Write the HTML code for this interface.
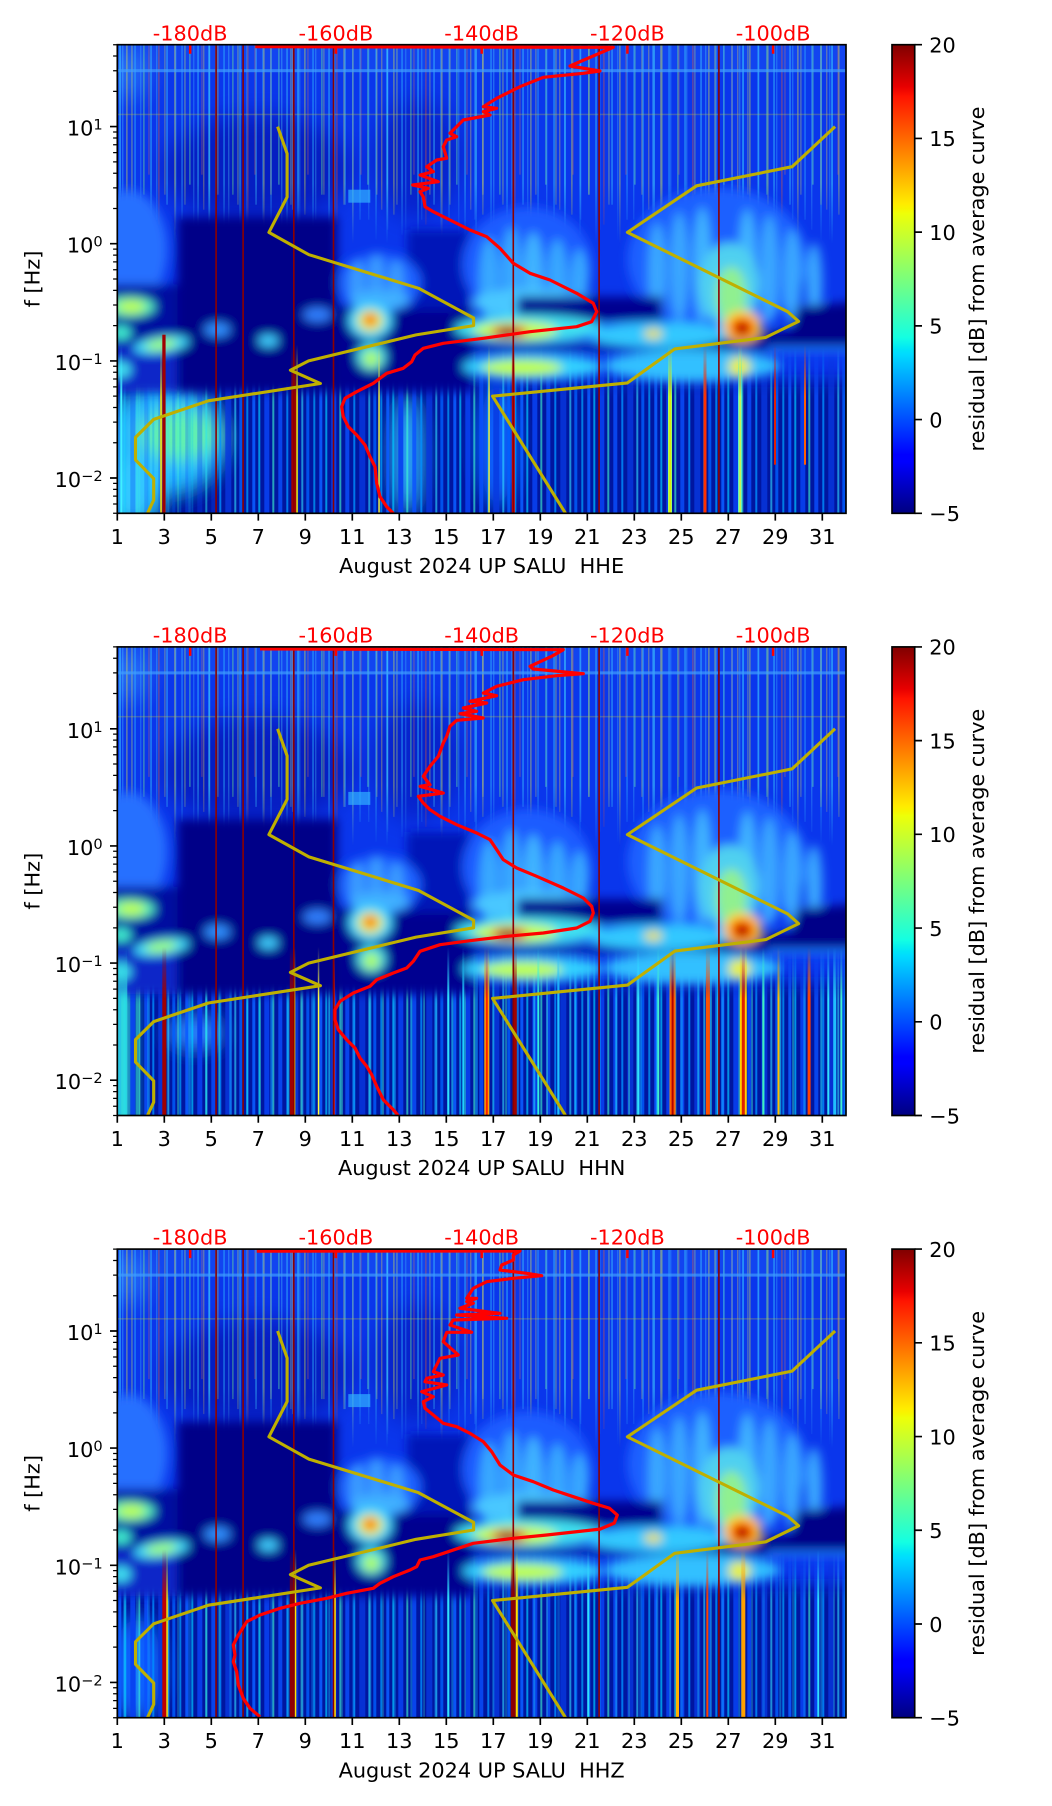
<!DOCTYPE html>
<html><head><meta charset="utf-8">
<style>
html,body{margin:0;padding:0;background:#fff}
svg{display:block}
text{font-family:"DejaVu Sans","Liberation Sans",sans-serif;font-size:20.83px}
</style></head><body>
<svg xmlns="http://www.w3.org/2000/svg" width="1052" height="1806" viewBox="0 0 1052 1806">
<rect width="1052" height="1806" fill="#fff"/>
<defs>
<clipPath id="pc"><rect x="0" y="0" width="728.7" height="468.6"/></clipPath>
<filter id="b5" filterUnits="userSpaceOnUse" x="-80" y="-80" width="900" height="640"><feGaussianBlur stdDeviation="5"/></filter>
<filter id="b4" filterUnits="userSpaceOnUse" x="-80" y="-80" width="900" height="640"><feGaussianBlur stdDeviation="4"/></filter>
<filter id="b9" filterUnits="userSpaceOnUse" x="-80" y="-80" width="900" height="640"><feGaussianBlur stdDeviation="9"/></filter>
<filter id="b12" filterUnits="userSpaceOnUse" x="-80" y="-80" width="900" height="640"><feGaussianBlur stdDeviation="12"/></filter>
<linearGradient id="mtg" gradientUnits="userSpaceOnUse" x1="0" y1="0" x2="0" y2="210">
<stop offset="0.66" stop-color="#fff"/><stop offset="0.95" stop-color="#000"/>
</linearGradient>
<mask id="mt" maskUnits="userSpaceOnUse" x="-10" y="-10" width="760" height="500">
<rect x="-10" y="-10" width="760" height="230" fill="url(#mtg)"/>
</mask>
<linearGradient id="meg" gradientUnits="userSpaceOnUse" x1="0" y1="300" x2="0" y2="352">
<stop offset="0" stop-color="#000"/><stop offset="1" stop-color="#fff"/>
</linearGradient>
<mask id="me" maskUnits="userSpaceOnUse" x="-10" y="-10" width="760" height="500">
<rect x="-10" y="280" width="760" height="200" fill="url(#meg)"/>
</mask>
<linearGradient id="jet" x1="0" y1="1" x2="0" y2="0">
<stop offset="0" stop-color="#000080"/><stop offset="0.11" stop-color="#0000ff"/><stop offset="0.125" stop-color="#0000ff"/>
<stop offset="0.34" stop-color="#00dbff"/><stop offset="0.35" stop-color="#00e5f7"/><stop offset="0.375" stop-color="#14ffe2"/>
<stop offset="0.64" stop-color="#eeff08"/><stop offset="0.65" stop-color="#f7f500"/><stop offset="0.66" stop-color="#ffec00"/>
<stop offset="0.89" stop-color="#ff1300"/><stop offset="0.91" stop-color="#e80000"/><stop offset="1" stop-color="#800000"/>
</linearGradient>
<pattern id="pt" width="89" height="220" patternUnits="userSpaceOnUse">
<rect x="2" width="1.5" height="200" fill="#40e0ff" opacity=".6"/>
<rect x="9" width="1.2" height="170" fill="#e8f040" opacity=".5"/>
<rect x="17" width="1.5" height="190" fill="#30c0ff" opacity=".5"/>
<rect x="26" width="1.2" height="150" fill="#80ff80" opacity=".5"/>
<rect x="33" width="1.5" height="200" fill="#40e8ff" opacity=".45"/>
<rect x="41" width="1.2" height="180" fill="#ff6020" opacity=".45"/>
<rect x="49" width="1.5" height="160" fill="#40d0ff" opacity=".5"/>
<rect x="57" width="1.2" height="200" fill="#f0f040" opacity=".5"/>
<rect x="64" width="1.5" height="175" fill="#30b0ff" opacity=".5"/>
<rect x="72" width="1.2" height="140" fill="#70ffa0" opacity=".5"/>
<rect x="80" width="1.5" height="195" fill="#40e0ff" opacity=".45"/>
<rect x="86" width="1" height="165" fill="#ffe040" opacity=".45"/>
</pattern>
<pattern id="pt2" width="53" height="220" patternUnits="userSpaceOnUse">
<rect x="5" width="1" height="185" fill="#60f0ff" opacity=".4"/>
<rect x="14" width="1.3" height="160" fill="#d0f060" opacity=".4"/>
<rect x="23" width="1" height="195" fill="#40c0ff" opacity=".45"/>
<rect x="31" width="1.3" height="130" fill="#ff8040" opacity=".3"/>
<rect x="39" width="1" height="175" fill="#50e0ff" opacity=".4"/>
<rect x="47" width="1.2" height="150" fill="#f0f050" opacity=".35"/>
</pattern>
<pattern id="pe" width="67" height="600" patternUnits="userSpaceOnUse">
<rect x="1" width="3" height="600" fill="#0a5cff" opacity=".9"/>
<rect x="7" width="2" height="600" fill="#00c8ff" opacity=".7"/>
<rect x="13" width="5" height="600" fill="#0840f0" opacity=".9"/>
<rect x="21" width="2" height="600" fill="#40ffd0" opacity=".6"/>
<rect x="27" width="4" height="600" fill="#0a50ff" opacity=".8"/>
<rect x="35" width="2" height="600" fill="#0090ff" opacity=".8"/>
<rect x="41" width="6" height="600" fill="#0838e0" opacity=".8"/>
<rect x="50" width="2" height="600" fill="#30e0ff" opacity=".6"/>
<rect x="55" width="3" height="600" fill="#0060ff" opacity=".8"/>
<rect x="62" width="2" height="600" fill="#00a8ff" opacity=".7"/>
</pattern>
<pattern id="pe2" width="41" height="600" patternUnits="userSpaceOnUse">
<rect x="6" width="2" height="600" fill="#20d8ff" opacity=".6"/>
<rect x="19" width="1.5" height="600" fill="#40ffd0" opacity=".5"/>
<rect x="30" width="2.5" height="600" fill="#10a0ff" opacity=".6"/>
</pattern>

<g id="top">
<rect x="-5" y="-5" width="740" height="480" fill="#0a36ec"/>
<rect x="-5" y="-5" width="740" height="30" fill="#1244f0"/>
<g filter="url(#b12)">
<ellipse cx="140" cy="125" rx="95" ry="55" fill="#000090" opacity=".45"/>
<ellipse cx="300" cy="115" rx="45" ry="60" fill="#000090" opacity=".35"/>
<ellipse cx="10" cy="30" rx="20" ry="25" fill="#40a0ff" opacity=".5"/>
</g>
<g mask="url(#mt)">
<rect x="0" y="0" width="729" height="210" fill="url(#pt)"/>
<rect x="0" y="0" width="729" height="210" fill="url(#pt2)"/>
</g>
<rect x="0" y="24.5" width="729" height="3" fill="#40a0ff" opacity=".7"/>
<rect x="0" y="69" width="729" height="1.5" fill="#c0c040" opacity=".3"/>
<rect x="231" y="145" width="22" height="13" fill="#30b0ff" opacity=".7"/>
</g>

<g id="mid" filter="url(#b5)">
<ellipse cx="10" cy="205" rx="40" ry="60" fill="#2670ff"/>
<rect x="-30" y="240" width="92" height="62" fill="#000ca0"/>
<rect x="-30" y="300" width="92" height="47" fill="#0a28c8"/>
<rect x="60" y="172" width="160" height="175" fill="#000088"/>
<rect x="220" y="262" width="135" height="85" fill="#000090"/>
<rect x="290" y="185" width="62" height="80" fill="#0614b8"/>
<ellipse cx="262" cy="238" rx="42" ry="30" fill="#1a60ff"/>
<ellipse cx="240" cy="240" rx="8" ry="25" fill="#3a9cff"/>
<ellipse cx="259" cy="236" rx="8" ry="28" fill="#3a9cff"/>
<ellipse cx="279" cy="240" rx="8" ry="25" fill="#3a9cff"/>
<ellipse cx="262" cy="255" rx="30" ry="10" fill="#40b0ff"/>
<ellipse cx="410" cy="220" rx="65" ry="58" fill="#1a5cff"/>
<ellipse cx="372" cy="235" rx="10" ry="42" fill="#38a8ff"/>
<ellipse cx="394" cy="230" rx="10" ry="48" fill="#38a8ff"/>
<ellipse cx="416" cy="232" rx="10" ry="45" fill="#40b4ff"/>
<ellipse cx="440" cy="236" rx="10" ry="42" fill="#38a8ff"/>
<ellipse cx="462" cy="240" rx="9" ry="36" fill="#38a8ff"/>
<ellipse cx="410" cy="258" rx="55" ry="14" fill="#48c8ff"/>
<ellipse cx="600" cy="215" rx="90" ry="72" fill="#1a60ff"/>
<ellipse cx="540" cy="228" rx="9" ry="50" fill="#3aa8ff"/>
<ellipse cx="562" cy="222" rx="9" ry="55" fill="#3aa8ff"/>
<ellipse cx="585" cy="220" rx="9" ry="58" fill="#40b4ff"/>
<ellipse cx="630" cy="222" rx="9" ry="58" fill="#40b4ff"/>
<ellipse cx="652" cy="225" rx="9" ry="55" fill="#3aa8ff"/>
<ellipse cx="675" cy="232" rx="9" ry="48" fill="#3aa8ff"/>
<ellipse cx="697" cy="238" rx="8" ry="40" fill="#3aa8ff"/>
<ellipse cx="612" cy="240" rx="30" ry="42" fill="#50d0f0"/>
<ellipse cx="614" cy="250" rx="15" ry="28" fill="#90f090"/>
<rect x="400" y="252" width="145" height="24" fill="#000090"/>
<path d="M540,290 L673,286 L680,262 L760,255 L760,300 L540,303 Z" fill="#000088"/>
<rect x="350" y="299" width="400" height="7" fill="#0010a0"/>
<ellipse cx="12" cy="262" rx="26" ry="10" fill="#50f0c0"/>
<ellipse cx="14" cy="262" rx="14" ry="6" fill="#c0ff40"/>
<ellipse cx="4" cy="288" rx="10" ry="7" fill="#40f0d0"/>
<ellipse cx="44" cy="300" rx="28" ry="8" fill="#40e0ff" transform="rotate(-8 44 300)"/>
<ellipse cx="44" cy="300" rx="16" ry="5" fill="#a0ff60" transform="rotate(-8 44 300)"/>
<ellipse cx="100" cy="285" rx="13" ry="7" fill="#3090ff"/>
<ellipse cx="151" cy="296" rx="10" ry="6" fill="#40d0ff"/>
<ellipse cx="200" cy="270" rx="14" ry="7" fill="#3080ff"/>
<ellipse cx="4" cy="325" rx="10" ry="8" fill="#40e0f0"/>
<ellipse cx="253" cy="276" rx="22" ry="18" fill="#40d8ff"/>
<ellipse cx="253" cy="276" rx="13" ry="11" fill="#e8f030"/>
<ellipse cx="253" cy="275" rx="6" ry="6" fill="#ff4000"/>
<ellipse cx="254" cy="312" rx="15" ry="14" fill="#40d8e8"/>
<ellipse cx="254" cy="314" rx="8" ry="8" fill="#b0ff50"/>
<ellipse cx="412" cy="284" rx="75" ry="14" fill="#40e0f0"/>
<ellipse cx="398" cy="286" rx="42" ry="9" fill="#c8ff40"/>
<ellipse cx="392" cy="287" rx="18" ry="6" fill="#e80000"/>
<ellipse cx="390" cy="287" rx="8" ry="4" fill="#800000"/>
<ellipse cx="415" cy="322" rx="70" ry="13" fill="#30d0ff"/>
<ellipse cx="405" cy="323" rx="40" ry="8" fill="#c0ff40"/>
<ellipse cx="540" cy="290" rx="72" ry="13" fill="#30c8ff"/>
<ellipse cx="536" cy="289" rx="9" ry="5" fill="#f0e020"/>
<ellipse cx="575" cy="321" rx="88" ry="16" fill="#30c0ff"/>
<ellipse cx="622" cy="322" rx="11" ry="10" fill="#e8f030"/>
<ellipse cx="625" cy="282" rx="19" ry="16" fill="#ffd000"/>
<ellipse cx="625" cy="283" rx="12" ry="10" fill="#ff2000"/>
<ellipse cx="625" cy="284" rx="6" ry="6" fill="#900000"/>
<rect x="650" y="302" width="100" height="5" fill="#2080ff"/>
</g>

<g id="dred" fill="#8c0000">
<rect x="98" y="0" width="1.6" height="469"/>
<rect x="125" y="0" width="1.6" height="469"/>
<rect x="175.7" y="0" width="1.6" height="469"/>
<rect x="215.4" y="0" width="1.6" height="469"/>
<rect x="395.2" y="0" width="1.6" height="469"/>
<rect x="481" y="0" width="1.6" height="469"/>
<rect x="600.8" y="0" width="1.6" height="469"/>
</g>

<g id="olive" fill="none" stroke="#bfb000" stroke-width="3.1" stroke-linejoin="round">
<polyline points="160.3,81.9 169.8,108.9 169.8,152.4 151.6,187.7 191.6,210.0 301.3,243.6 356.3,273.3 356.3,280.9 298.8,290.2 191.3,316.2 173.1,325.5 203.1,338.8 91.1,356.1 36.4,374.7 18.2,392.7 18.2,415.2 36.4,433.9 36.4,455.3 30.2,468.6"/>
<polyline points="717.8,81.9 674.8,122.0 579.3,141.1 510.1,187.7 670.4,267.0 681.3,276.7 648.5,292.7 557.5,304.2 510.1,338.2 375.3,351.5 448.2,468.6"/>
</g>

<g id="rt" stroke="#ff0000" stroke-width="2.5">
<line x1="72.87" y1="0" x2="72.87" y2="9"/>
<line x1="218.6" y1="0" x2="218.6" y2="9"/>
<line x1="364.4" y1="0" x2="364.4" y2="9"/>
<line x1="510.1" y1="0" x2="510.1" y2="9"/>
<line x1="655.8" y1="0" x2="655.8" y2="9"/>
</g>

<g id="ax">
<rect x="0" y="0" width="728.7" height="468.6" fill="none" stroke="#000" stroke-width="1.67"/>
<path d="M0,81.9h-7.3M0,199h-7.3M0,316.2h-7.3M0,433.3h-7.3" stroke="#000" stroke-width="1.67"/>
<path d="M0,468.6h-4.2M0,459.33h-4.2M0,451.48h-4.2M0,444.69h-4.2M0,438.7h-4.2M0,398.07h-4.2M0,377.44h-4.2M0,362.8h-4.2M0,351.45h-4.2M0,342.17h-4.2M0,334.33h-4.2M0,327.54h-4.2M0,321.55h-4.2M0,280.92h-4.2M0,260.29h-4.2M0,245.65h-4.2M0,234.3h-4.2M0,225.02h-4.2M0,217.18h-4.2M0,210.39h-4.2M0,204.4h-4.2M0,163.77h-4.2M0,143.14h-4.2M0,128.5h-4.2M0,117.15h-4.2M0,107.87h-4.2M0,100.03h-4.2M0,93.24h-4.2M0,87.25h-4.2M0,46.62h-4.2M0,25.99h-4.2M0,11.35h-4.2M0,0h-4.2" stroke="#000" stroke-width="1.25"/>
<path d="M0,468.6v7.3M47,468.6v7.3M94,468.6v7.3M141,468.6v7.3M188,468.6v7.3M235,468.6v7.3M282,468.6v7.3M329,468.6v7.3M376,468.6v7.3M423,468.6v7.3M470,468.6v7.3M517,468.6v7.3M564,468.6v7.3M611,468.6v7.3M658,468.6v7.3M705,468.6v7.3" stroke="#000" stroke-width="1.67"/>
<g text-anchor="middle" fill="#000">
<text x="0" y="499.1">1</text><text x="47" y="499.1">3</text><text x="94" y="499.1">5</text><text x="141" y="499.1">7</text>
<text x="188" y="499.1">9</text><text x="235" y="499.1">11</text><text x="282" y="499.1">13</text><text x="329" y="499.1">15</text>
<text x="376" y="499.1">17</text><text x="423" y="499.1">19</text><text x="470" y="499.1">21</text><text x="517" y="499.1">23</text>
<text x="564" y="499.1">25</text><text x="611" y="499.1">27</text><text x="658" y="499.1">29</text><text x="705" y="499.1">31</text>
</g>
<g text-anchor="end" fill="#000">
<text x="-14.6" y="90.9">10<tspan dy="-6" font-size="14.6">1</tspan></text>
<text x="-14.6" y="208">10<tspan dy="-6" font-size="14.6">0</tspan></text>
<text x="-14.6" y="325.2">10<tspan dy="-6" font-size="14.6">−1</tspan></text>
<text x="-14.6" y="442.3">10<tspan dy="-6" font-size="14.6">−2</tspan></text>
</g>
<g text-anchor="middle" fill="#ff0000">
<text x="72.87" y="-4.4">-180dB</text><text x="218.6" y="-4.4">-160dB</text><text x="364.4" y="-4.4">-140dB</text>
<text x="510.1" y="-4.4">-120dB</text><text x="655.8" y="-4.4">-100dB</text>
</g>
<text transform="translate(-77.7,234.3) rotate(-90)" text-anchor="middle">f [Hz]</text>
<rect x="774.7" y="0" width="22.7" height="468.6" fill="url(#jet)" stroke="#000" stroke-width="1.67"/>
<path d="M797.4,0h7.3M797.4,93.72h7.3M797.4,187.44h7.3M797.4,281.16h7.3M797.4,374.88h7.3M797.4,468.6h7.3" stroke="#000" stroke-width="1.67"/>
<g fill="#000">
<text x="812" y="7.8">20</text><text x="812" y="101.5">15</text><text x="812" y="195.2">10</text>
<text x="812" y="289">5</text><text x="812" y="382.7">0</text><text x="812" y="476.4">−5</text>
</g>
<text transform="translate(866.7,234.3) rotate(-90)" text-anchor="middle">residual [dB] from average curve</text>
</g>
</defs>

<!-- PANEL 1 -->
<g transform="translate(117.3,44.7)">
<g clip-path="url(#pc)">
<use href="#top"/>
<g filter="url(#b9)">
<rect x="-30" y="336" width="790" height="160" fill="#0012a0"/>
<ellipse cx="48" cy="395" rx="58" ry="52" fill="#28b8ff"/>
<ellipse cx="62" cy="390" rx="40" ry="26" fill="#60f0b0"/>
<ellipse cx="15" cy="445" rx="28" ry="35" fill="#30c8ff"/>
<ellipse cx="290" cy="410" rx="12" ry="55" fill="#2aa8ff"/>
<ellipse cx="380" cy="400" rx="18" ry="60" fill="#1060ff"/>
</g>
<g mask="url(#me)">
<rect x="100" y="300" width="629" height="169" fill="url(#pe)"/>
<rect x="0" y="300" width="100" height="169" fill="url(#pe)" opacity=".35"/>
<rect x="0" y="300" width="100" height="169" fill="url(#pe2)" opacity=".6"/>
</g>
<use href="#mid"/>
<g mask="url(#me)">
<rect x="3" y="300" width="2" height="169" fill="#40f0ff"/>
<rect x="43" y="300" width="1.5" height="169" fill="#ffe000"/>
<rect x="174" y="300" width="5" height="169" fill="#a00000"/>
<rect x="179" y="300" width="1.5" height="169" fill="#f0f000"/>
<rect x="261" y="300" width="1.5" height="169" fill="#f0f040"/>
<rect x="371" y="300" width="1.5" height="169" fill="#f0f040"/>
<rect x="394.5" y="300" width="3" height="169" fill="#e00000"/>
<rect x="550.7" y="300" width="4" height="169" fill="#a0ff60"/>
<rect x="552" y="300" width="1.5" height="169" fill="#f0e000"/>
<rect x="586.2" y="300" width="3" height="169" fill="#ff3000"/>
<rect x="620.7" y="300" width="4" height="169" fill="#60f0c0"/>
<rect x="622" y="300" width="1.5" height="169" fill="#e0f040"/>
<rect x="656.7" y="300" width="2" height="120" fill="#e02000"/>
<rect x="686.7" y="300" width="2" height="120" fill="#ff6000"/>
</g>
<rect x="45" y="290" width="3.3" height="179" fill="#a00000"/>
<use href="#dred"/>
<use href="#olive"/>
<polyline fill="none" stroke="#ff0000" stroke-width="3.2" stroke-linejoin="round" points="138,2 496,2.6 452.7,21.3 482.7,26.3 466,28.6 426,32.6 402.7,42 379.4,53.6 366,62 379.4,63.6 366,67 372.7,70.3 346,75.3 332.7,88.6 339.4,92 329.4,95.3 326,102 329.4,113.6 319.4,115.3 309.4,122 316,127 302.7,130.3 321,137 295.4,140.3 311,143.6 302.7,147 306,152 307.7,162 316,167 332.7,175.3 352.7,185.3 369.4,192 382.7,203.6 396,218.6 412.7,228.6 432.7,235.3 459.4,248.6 476,258.6 479.4,267 474.4,277 459.4,282 412.7,287 366,293.6 326,298.6 306,303.6 297.7,310.3 294.4,317 286,323.6 269.4,328.6 256,338.6 239.4,347 227.7,353.6 224.4,362 226,372 231,382 239.4,390.3 247.7,400.3 252.7,412 257.7,422 259.4,438.6 262.7,452 269.4,462 276,468.6"/>
<use href="#rt"/>
</g>
<use href="#ax"/>
<text x="364.35" y="528.3" text-anchor="middle">August 2024 UP SALU&#160; HHE</text>
</g>

<!-- PANEL 2 -->
<g transform="translate(117.3,646.9)">
<g clip-path="url(#pc)">
<use href="#top"/>
<g filter="url(#b9)">
<rect x="-30" y="336" width="790" height="160" fill="#0012a0"/>
<rect x="-20" y="340" width="30" height="140" fill="#30d8e8"/>
<ellipse cx="78" cy="386" rx="26" ry="14" fill="#2a80ff"/>
</g>
<g mask="url(#me)">
<rect x="0" y="300" width="729" height="169" fill="url(#pe)"/>
<rect x="0" y="300" width="729" height="169" fill="url(#pe2)"/>
</g>
<use href="#mid"/>
<g mask="url(#me)">
<rect x="0" y="300" width="10" height="169" fill="#30e0e0" opacity=".8"/>
<rect x="45" y="300" width="4" height="169" fill="#a00000"/>
<rect x="172.5" y="300" width="3.5" height="169" fill="#a00000"/>
<rect x="176.5" y="300" width="1.5" height="169" fill="#ffe000"/>
<rect x="200.5" y="300" width="1.5" height="169" fill="#ffff40"/>
<rect x="216" y="300" width="1.5" height="169" fill="#ff2000"/>
<rect x="330" y="300" width="2" height="169" fill="#30e0ff"/>
<rect x="345" y="300" width="2" height="169" fill="#20d0ff"/>
<rect x="367" y="300" width="5" height="169" fill="#ffa000"/>
<rect x="368.5" y="300" width="2" height="169" fill="#ff2000"/>
<rect x="396.5" y="300" width="3" height="169" fill="#a00000"/>
<rect x="420" y="300" width="2" height="169" fill="#30f0e0"/>
<rect x="440" y="300" width="2" height="169" fill="#20c0ff"/>
<rect x="520" y="300" width="2" height="169" fill="#30e0ff"/>
<rect x="540" y="300" width="2" height="169" fill="#40f0d0"/>
<rect x="552.3" y="300" width="6" height="169" fill="#ff6000"/>
<rect x="554.3" y="300" width="2" height="169" fill="#b00000"/>
<rect x="588.6" y="300" width="4" height="169" fill="#ff5000"/>
<rect x="600" y="300" width="2" height="169" fill="#30d0ff"/>
<rect x="622.5" y="300" width="7" height="169" fill="#ffd000"/>
<rect x="624.5" y="300" width="3" height="169" fill="#e02000"/>
<rect x="645" y="300" width="2" height="169" fill="#40f0c0"/>
<rect x="660.2" y="300" width="2" height="169" fill="#ffc000"/>
<rect x="690.3" y="300" width="3" height="169" fill="#ff4000"/>
<rect x="710" y="300" width="2" height="169" fill="#30e0ff"/>
<rect x="716" y="300" width="3" height="169" fill="#20c0ff"/>
<rect x="723" y="300" width="2" height="169" fill="#40f0d0"/>
</g>
<use href="#dred"/>
<use href="#olive"/>
<polyline fill="none" stroke="#ff0000" stroke-width="3.2" stroke-linejoin="round" points="142.7,2 446,2.8 434.4,9.4 412.7,19.4 416,22.1 466,26.8 439.4,28.8 406,32.8 379.4,39.4 366,46.1 379.4,48.8 352.7,54.4 369.4,56.1 346,61.1 359.4,64.4 342.7,66.8 366,71.1 339.4,73.4 332.7,79.4 329.4,89.4 326,96.1 321,109.4 312.7,119.4 306,129.4 312.7,137.8 302.7,139.4 326,146.1 301,149.4 306,156.1 312.7,162.8 322.7,169.4 339.4,177.8 359.4,186.1 372.7,192.8 379.4,202.8 386,212.8 399.4,221.1 419.4,229.4 446,241.1 466,251.1 474.4,259.4 476,266.1 472.7,274.4 459.4,281.1 426,286.1 389.4,289.4 352.7,293.8 322.7,297.8 302.7,304.4 296,314.4 289.4,321.1 276,326.1 259.4,332.8 252.7,339.4 236,346.1 222.7,354.4 217.7,362.8 217.7,372.8 221,382.8 229.4,392.8 237.7,401.1 242.7,411.1 249.4,419.4 254.4,427.8 259.4,439.4 266,452.8 276,462.8 281,468.8"/>
<use href="#rt"/>
</g>
<use href="#ax"/>
<text x="364.35" y="528.3" text-anchor="middle">August 2024 UP SALU&#160; HHN</text>
</g>

<!-- PANEL 3 -->
<g transform="translate(117.3,1249.1)">
<g clip-path="url(#pc)">
<use href="#top"/>
<g filter="url(#b9)">
<rect x="-30" y="336" width="790" height="160" fill="#0012a0"/>
<ellipse cx="20" cy="420" rx="25" ry="50" fill="#1060ff"/>
</g>
<g mask="url(#me)">
<rect x="0" y="300" width="729" height="169" fill="url(#pe)"/>
<rect x="0" y="300" width="729" height="169" fill="url(#pe2)" opacity=".6"/>
</g>
<use href="#mid"/>
<g mask="url(#me)">
<rect x="45" y="300" width="4" height="169" fill="#c00000"/>
<rect x="49" y="300" width="1.5" height="169" fill="#ffe000"/>
<rect x="172.5" y="300" width="5" height="169" fill="#900000"/>
<rect x="177.5" y="300" width="1.5" height="169" fill="#ffe000"/>
<rect x="216.5" y="300" width="2" height="169" fill="#ffe000"/>
<rect x="393.5" y="300" width="5" height="169" fill="#900000"/>
<rect x="398.5" y="300" width="2" height="169" fill="#ffe000"/>
<rect x="330" y="300" width="2" height="169" fill="#30e0ff"/>
<rect x="470" y="300" width="2" height="169" fill="#30e0ff"/>
<rect x="558.7" y="300" width="3" height="169" fill="#ffb000"/>
<rect x="589" y="300" width="2" height="169" fill="#ff4000"/>
<rect x="624" y="300" width="4" height="169" fill="#ffa000"/>
<rect x="700" y="300" width="2" height="169" fill="#30e0ff"/>
</g>
<use href="#dred"/>
<use href="#olive"/>
<polyline fill="none" stroke="#ff0000" stroke-width="3.2" stroke-linejoin="round" points="139.4,2 402.7,1.9 396,5.9 396,10.9 384.4,15.9 382.7,20.9 409.4,24.2 424.4,26.6 396,29.2 369.4,32.6 356,39.2 349.4,49.2 359.4,49.2 349.4,52.6 356,54.2 342.7,59.2 382.7,64.2 339.4,65.9 389.4,69.2 336,70.9 332.7,75.9 354.4,83.2 329.4,83.2 326,92.6 341,105.9 322.7,109.2 316,122.6 326,125.9 309.4,129.2 307.7,132.6 329.4,135.9 304.4,142.6 316,147.6 306,152.6 307.7,159.2 316,165.9 326,174.2 339.4,177.6 352.7,184.2 366,192.6 374.4,202.6 382.7,215.9 396,225.9 416,232.6 436,240.9 456,247.6 476,254.2 492,259 500,266 497,274 482.7,280 429.4,285.9 396,289.2 356,294.2 316,307.6 302.7,310.9 299.4,317.6 292.7,320.9 276,327.6 262.7,334.2 256,339.2 229.4,344.2 209.4,349.2 182.7,354.2 162.7,359.2 142.7,365.9 129.4,372.6 121,385.9 116,395.9 117.7,405.9 116,412.6 119.4,422.6 121,435.9 126,449.2 132.7,459.2 142.7,467.6"/>
<use href="#rt"/>
</g>
<use href="#ax"/>
<text x="364.35" y="528.3" text-anchor="middle">August 2024 UP SALU&#160; HHZ</text>
</g>
</svg>
</body></html>
